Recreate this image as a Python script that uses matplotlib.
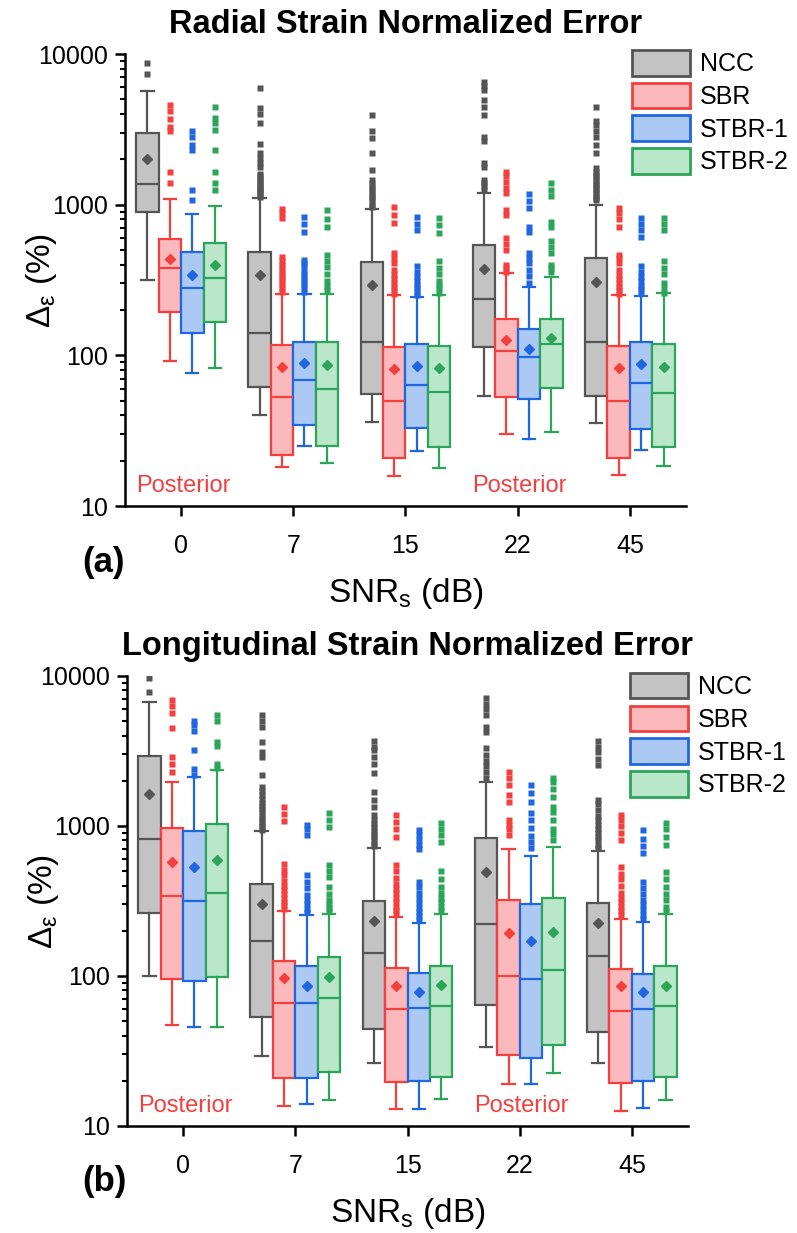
import numpy as np
import matplotlib
matplotlib.use("Agg")
import matplotlib.pyplot as plt
from matplotlib.patches import Patch

plt.rcParams['font.family'] = ['Liberation Sans', 'DejaVu Sans']
plt.rcParams['mathtext.fontset'] = 'custom'
plt.rcParams['mathtext.rm'] = 'Liberation Sans'
plt.rcParams['mathtext.it'] = 'Liberation Sans'

snr_labels = ['0', '7', '15', '22', '45']
methods = ['NCC', 'SBR', 'STBR-1', 'STBR-2']
edge_colors = ['#555555', '#f43f3f', '#1f66e0', '#2ba55a']
fill_colors = ['#c3c3c3', '#fbb9bb', '#abc9f2', '#bae6c9']

# ---- panel (a): radial strain, rows = SNR groups, cols = methods ----
a_whislo = [[316, 92, 76, 83], [40, 18.2, 25, 19.2], [36, 15.8, 23.2, 18],
            [53.7, 30, 27.7, 30.8], [35.7, 16, 23.5, 18.3]]
a_q1 = [[893, 195, 140, 167], [62, 21.8, 34.4, 25], [55, 20.7, 32.7, 24.5],
        [114, 52.6, 51, 61], [54, 20.7, 32.4, 24.5]]
a_med = [[1377, 380, 279, 327], [140, 53, 69, 60], [122, 49.8, 64, 56.8],
         [237, 107, 97, 119], [123, 49.8, 65.5, 56]]
a_mean = [[2000, 435, 340, 398], [341, 84, 89, 86], [292, 80.8, 85, 82.6],
          [372, 127, 111, 131], [308, 82.6, 87, 83.6]]
a_q3 = [[3000, 591, 482, 553], [482, 117, 123, 122], [414, 113, 119, 116],
        [539, 174, 149, 174], [440, 116, 122, 119]]
a_whishi = [[5700, 1085, 870, 980], [1100, 255, 255, 255], [931, 251, 245, 250],
            [1190, 350, 285, 333], [993, 251, 247, 258]]
a_fliers = [
    [[7400, 8700],
     [1400, 1650, 3100, 3300, 3700, 4200, 4600],
     [1080, 1250, 2300, 2500, 2800, 3100],
     [1250, 1390, 1645, 2300, 3125, 3500, 3760, 4450]],
    [[1130, 1170, 1210, 1250, 1290, 1330, 1380, 1430, 1480, 1540, 1600, 1780,
      1900, 2050, 2200, 2520, 3470, 4000, 4400, 5970],
     [265, 280, 295, 310, 325, 340, 360, 380, 400, 420, 450, 820, 880, 930],
     [265, 280, 295, 310, 325, 345, 365, 390, 410, 430, 660, 740, 828],
     [270, 290, 310, 345, 385, 420, 460, 710, 800, 920]],
    [[960, 1000, 1050, 1100, 1150, 1200, 1260, 1320, 1380, 1450, 1700, 2210,
      2770, 3100, 3930],
     [255, 270, 285, 300, 320, 340, 370, 410, 445, 480, 760, 860, 970],
     [250, 265, 280, 295, 310, 330, 360, 390, 680, 750, 830],
     [260, 280, 295, 310, 345, 380, 420, 650, 730, 820]],
    [[1250, 1330, 1400, 1450, 1780, 1890, 2650, 2800, 3960, 4450, 4940, 5760,
      6100, 6500],
     [360, 380, 400, 500, 550, 600, 850, 920, 1200, 1300, 1420, 1550, 1650],
     [300, 335, 370, 410, 440, 480, 660, 710, 950, 1050, 1180],
     [360, 380, 400, 480, 520, 570, 710, 770, 1150, 1250, 1400]],
    [[1070, 1110, 1150, 1200, 1250, 1300, 1350, 1400, 1460, 1520, 1580, 1650,
      1750, 2200, 2500, 2800, 3100, 3400, 3600, 4450],
     [255, 270, 285, 300, 320, 340, 370, 410, 440, 460, 710, 800, 880, 950],
     [260, 275, 290, 310, 330, 360, 390, 610, 680, 750, 820],
     [260, 280, 300, 345, 380, 420, 680, 750, 820]],
]

# ---- panel (b): longitudinal strain ----
b_whislo = [[100, 47, 45.5, 46], [29.4, 13.6, 14, 15], [26.2, 13, 13, 15.1],
            [33.5, 19, 19, 22.4], [26.4, 12.6, 13.1, 15]]
b_q1 = [[262, 95.5, 93, 99], [53.5, 21, 20.8, 23], [44, 19.5, 20, 21.3],
        [64, 29.7, 28.5, 34.7], [42, 19.4, 20, 21.3]]
b_med = [[815, 343, 318, 359], [172, 66, 66, 71.6], [143, 60, 61.5, 63],
         [221, 100, 95, 110], [136, 58.7, 60, 63]]
b_mean = [[1625, 578, 535, 593], [302, 96.5, 86, 98], [234, 86, 78.5, 87],
          [496, 192, 171, 197], [224, 86, 78, 86]]
b_q3 = [[2940, 975, 926, 1026], [409, 126, 117, 133], [318, 113, 105, 117],
        [835, 321, 301, 333], [305, 111, 103, 117]]
b_whishi = [[6740, 1970, 2130, 2360], [930, 272, 255, 259], [710, 248, 224, 259],
            [1950, 703, 634, 728], [684, 240, 228, 259]]
b_fliers = [
    [[7800, 9700],
     [2300, 2600, 2900, 4500, 5700, 6300, 6900],
     [2200, 2400, 3200, 4300, 4700, 5000],
     [2450, 2600, 3400, 3600, 5000, 5500]],
    [[940, 980, 1020, 1070, 1120, 1170, 1230, 1290, 1360, 1430, 1510, 1600,
      1700, 1830, 2200, 2900, 3100, 3650, 4600, 5000, 5500],
     [280, 295, 310, 330, 350, 375, 400, 430, 470, 510, 560, 1080, 1200, 1330],
     [265, 280, 300, 320, 345, 385, 420, 470, 870, 950, 1020],
     [270, 285, 300, 320, 350, 390, 460, 500, 550, 980, 1100, 1220]],
    [[730, 760, 800, 840, 880, 930, 980, 1030, 1090, 1180, 1340, 1500, 1680,
      2250, 2600, 2900, 3200, 3350, 3700],
     [260, 275, 290, 310, 330, 355, 380, 410, 450, 500, 550, 840, 950, 1060, 1180],
     [235, 250, 265, 285, 305, 330, 360, 390, 420, 700, 750, 800, 870, 940],
     [270, 290, 310, 330, 360, 390, 440, 500, 785, 870, 960, 1040]],
    [[2100, 2300, 2500, 2700, 2950, 3300, 4200, 4600, 5500, 6000, 6500, 7100],
     [870, 950, 1020, 1100, 1440, 1620, 1880, 2100, 2300],
     [710, 780, 860, 970, 1100, 1220, 1450, 1650, 1880],
     [800, 880, 960, 1100, 1240, 1340, 1550, 1750, 1950, 2100]],
    [[710, 750, 800, 850, 900, 960, 1020, 1090, 1160, 1280, 1400, 1500, 2550,
      2800, 3100, 3350, 3700],
     [255, 270, 290, 310, 330, 360, 400, 440, 480, 530, 800, 900, 1000, 1100, 1180],
     [240, 255, 275, 295, 320, 350, 385, 420, 660, 740, 820, 940],
     [270, 290, 320, 350, 390, 440, 490, 750, 850, 950, 1040]],
]

offsets = [-0.3, -0.1, 0.1, 0.3]


def draw_panel(ax, whislo, q1, med, mean, q3, whishi, fliers, title, leg_xy):
    for m in range(4):
        stats = []
        for g in range(5):
            stats.append(dict(whislo=whislo[g][m], q1=q1[g][m], med=med[g][m],
                              mean=mean[g][m], q3=q3[g][m], whishi=whishi[g][m],
                              fliers=fliers[g][m]))
        ec = edge_colors[m]
        ax.bxp(stats, positions=[g + offsets[m] for g in range(5)], widths=0.2,
               capwidths=0.11, patch_artist=True, showmeans=True,
               boxprops=dict(facecolor=fill_colors[m], edgecolor=ec, linewidth=1.6),
               medianprops=dict(color=ec, linewidth=1.6),
               whiskerprops=dict(color=ec, linewidth=1.6),
               capprops=dict(color=ec, linewidth=1.6),
               meanprops=dict(marker='D', markerfacecolor=ec, markeredgecolor=ec,
                              markersize=5.5),
               flierprops=dict(marker='s', markerfacecolor=ec, markeredgecolor='none',
                               markersize=5))
    ax.set_yscale('log')
    ax.set_ylim(10, 10000)
    ax.set_xlim(-0.5, 4.5)
    ax.set_yticks([10, 100, 1000, 10000])
    ax.set_yticklabels(['10', '100', '1000', '10000'])
    ax.set_xticks(range(5))
    ax.set_xticklabels(snr_labels)
    ax.tick_params(axis='both', which='major', labelsize=18, width=1.8, length=7)
    ax.tick_params(axis='x', pad=13)
    ax.tick_params(axis='y', which='major', pad=5)
    ax.tick_params(axis='y', which='minor', width=1.5, length=3.5)
    for s in ['top', 'right']:
        ax.spines[s].set_visible(False)
    for s in ['left', 'bottom']:
        ax.spines[s].set_linewidth(1.8)
    ax.set_xlabel(r'SNR$_\mathrm{s}$ (dB)', fontsize=24, labelpad=13)
    ax.set_ylabel(r'$\Delta_\varepsilon$ (%)', fontsize=24)
    ax.yaxis.set_label_coords(-0.118, 0.5)
    ax.set_title(title, fontsize=23.5, fontweight='bold', pad=15)
    for xpos in [-0.40, 2.59]:
        ax.text(xpos, 0.02, 'Posterior', color='#f43f3f', fontsize=17,
                transform=ax.get_xaxis_transform(), ha='left', va='bottom')
    handles = [Patch(facecolor=fill_colors[i], edgecolor=edge_colors[i],
                     linewidth=2, label=methods[i]) for i in range(4)]
    ax.legend(handles=handles, loc='upper left', bbox_to_anchor=leg_xy,
              frameon=False, fontsize=18, handlelength=2.3, handleheight=1.2,
              labelspacing=0.26, handletextpad=0.4, borderpad=0, borderaxespad=0)


fig = plt.figure(figsize=(7.97, 12.33), dpi=100)
ax_a = fig.add_axes([0.1568, 0.5896, 0.7039, 0.3666])
ax_b = fig.add_axes([0.1593, 0.0868, 0.7040, 0.3650])

draw_panel(ax_a, a_whislo, a_q1, a_med, a_mean, a_q3, a_whishi, a_fliers,
           'Radial Strain Normalized Error', (0.904, 1.009))
draw_panel(ax_b, b_whislo, b_q1, b_med, b_mean, b_q3, b_whishi, b_fliers,
           'Longitudinal Strain Normalized Error', (0.897, 1.007))

fig.text(0.103, 0.544, '(a)', fontsize=25, fontweight='bold', va='center', ha='left')
fig.text(0.103, 0.0414, '(b)', fontsize=25, fontweight='bold', va='center', ha='left')

fig.savefig('out.png', dpi=100)
